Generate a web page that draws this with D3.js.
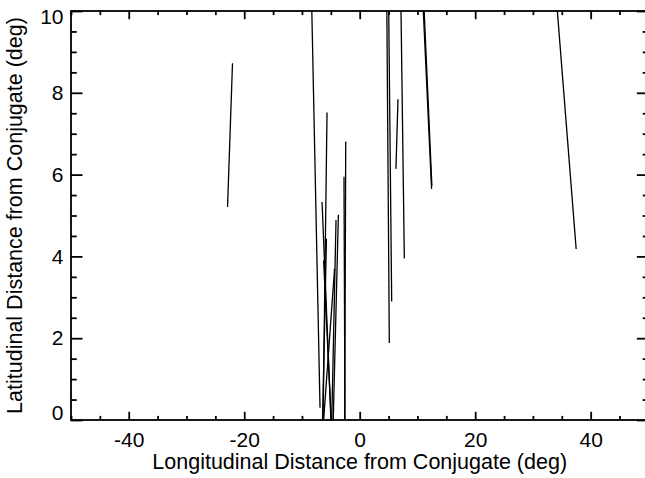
<!DOCTYPE html>
<html>
<head>
<meta charset="utf-8">
<script src="https://cdn.jsdelivr.net/npm/d3@7"></script>
<style>
  html, body { margin: 0; padding: 0; background: #fff; }
  svg { display: block; }
  text { font-family: "Liberation Sans", Arial, Helvetica, sans-serif; }
</style>
</head>
<body>
<svg id="chart" width="645" height="478"></svg>
<script>
// ---- data (segments: start x/y -> end x/y) ----
const segX1 = [-22.89, 34.20, -8.30, -5.66, -6.52, -5.76, -4.10, -3.69, -2.72, -2.42, 4.70, 5.02, 6.63, 7.15, 11.00, 11.15, -6.25, -4.35];
const segY1 = [  5.21, 10.05, 10.05,  7.52,  5.33,  4.43,  4.89,  5.02,  5.95,  6.81, 10.05, 10.05, 7.84, 10.05, 10.05, 10.05,  3.90,  3.70];
const segX2 = [-22.03, 37.49, -6.87, -6.35, -4.95, -6.45, -4.85, -4.60, -2.55, -2.60, 5.13, 5.54, 6.28, 7.73, 12.45, 12.50, -4.90, -6.30];
const segY2 = [  8.72,  4.18,  0.30, -0.10, -0.10, -0.10, -0.10, -0.10, -0.10, -0.10, 1.88, 2.90, 6.14, 3.95, 5.65, 5.72, -0.10, -0.10];

const xMajorTicks = [-40, -20, 0, 20, 40];
const xMinorTicks = [-50, -45, -35, -30, -25, -15, -10, -5, 5, 10, 15, 25, 30, 35, 45, 50];
const yMajorTicks = [0, 2, 4, 6, 8, 10];
const yMinorTicks = [0.5, 1, 1.5, 2.5, 3, 3.5, 4.5, 5, 5.5, 6.5, 7, 7.5, 8.5, 9, 9.5];

const xTitle = "Longitudinal Distance from Conjugate (deg)";
const yTitle = "Latitudinal Distance from Conjugate (deg)";

// ---- layout ----
const L = 71, R = 648.4, T = 11, B = 420;
const svg = d3.select("#chart");

const x = d3.scaleLinear().domain([-50, 50]).range([L, R]);
const y = d3.scaleLinear().domain([0, 10]).range([B, T]);

const xTickLen = 8.2, yTickLen = 11.5;
const tickFont = 21, titleFont = 21.5;

// clip
svg.append("defs").append("clipPath").attr("id", "clip")
  .append("rect").attr("x", L).attr("y", T).attr("width", R - L).attr("height", B - T);

function styleAxis(g) {
  g.select(".domain").remove();
  g.selectAll(".tick line").attr("stroke", "#000").attr("stroke-width", 1.8);
  g.selectAll(".tick text").attr("fill", "#000").style("font-size", tickFont + "px")
    .style("font-family", '"Liberation Sans", Arial, Helvetica, sans-serif');
}

// bottom
svg.append("g").attr("transform", `translate(0,${B})`)
  .call(d3.axisBottom(x).tickValues(xMajorTicks).tickSizeInner(-xTickLen).tickSizeOuter(0).tickPadding(12.5).tickFormat(d3.format("d")))
  .call(styleAxis)
  .call(g => g.selectAll(".tick text").text(d => d < 0 ? "-" + Math.abs(d) : d));
svg.append("g").attr("transform", `translate(0,${B})`)
  .call(d3.axisBottom(x).tickValues(xMinorTicks).tickSizeInner(-xTickLen / 2).tickSizeOuter(0).tickFormat(""))
  .call(styleAxis);
// top
svg.append("g").attr("transform", `translate(0,${T})`)
  .call(d3.axisTop(x).tickValues(xMajorTicks).tickSizeInner(-xTickLen).tickSizeOuter(0).tickFormat(""))
  .call(styleAxis);
svg.append("g").attr("transform", `translate(0,${T})`)
  .call(d3.axisTop(x).tickValues(xMinorTicks).tickSizeInner(-xTickLen / 2).tickSizeOuter(0).tickFormat(""))
  .call(styleAxis);
// left
svg.append("g").attr("transform", `translate(${L},0)`)
  .call(d3.axisLeft(y).tickValues(yMajorTicks).tickSizeInner(-yTickLen).tickSizeOuter(0).tickPadding(7.5).tickFormat(d3.format("d")))
  .call(styleAxis)
  .call(g => g.selectAll(".tick text").attr("y", d => d === 10 ? 6 : (d === 0 ? -7 : 0)));
svg.append("g").attr("transform", `translate(${L},0)`)
  .call(d3.axisLeft(y).tickValues(yMinorTicks).tickSizeInner(-yTickLen / 2).tickSizeOuter(0).tickFormat(""))
  .call(styleAxis);
// right
svg.append("g").attr("transform", `translate(${R},0)`)
  .call(d3.axisRight(y).tickValues(yMajorTicks).tickSizeInner(-yTickLen).tickSizeOuter(0).tickFormat(""))
  .call(styleAxis);
svg.append("g").attr("transform", `translate(${R},0)`)
  .call(d3.axisRight(y).tickValues(yMinorTicks).tickSizeInner(-yTickLen / 2).tickSizeOuter(0).tickFormat(""))
  .call(styleAxis);

// frame
svg.append("rect").attr("x", L).attr("y", T).attr("width", R - L).attr("height", B - T)
  .attr("fill", "none").attr("stroke", "#000").attr("stroke-width", 1.8);

// segments
const segs = segX1.map((d, i) => ({ x1: d, y1: segY1[i], x2: segX2[i], y2: segY2[i] }));
svg.append("g").attr("clip-path", "url(#clip)")
  .selectAll("line").data(segs).join("line")
  .attr("x1", d => x(d.x1)).attr("y1", d => y(d.y1))
  .attr("x2", d => x(d.x2)).attr("y2", d => y(d.y2))
  .attr("stroke", "#000").attr("stroke-width", 1.3);

// titles
svg.append("text").attr("x", (L + R) / 2).attr("y", 469)
  .attr("text-anchor", "middle").style("font-size", titleFont + "px").text(xTitle);
svg.append("text").attr("transform", `translate(22,${(T + B) / 2}) rotate(-90)`)
  .attr("text-anchor", "middle").style("font-size", titleFont + "px").text(yTitle);
</script>
</body>
</html>
